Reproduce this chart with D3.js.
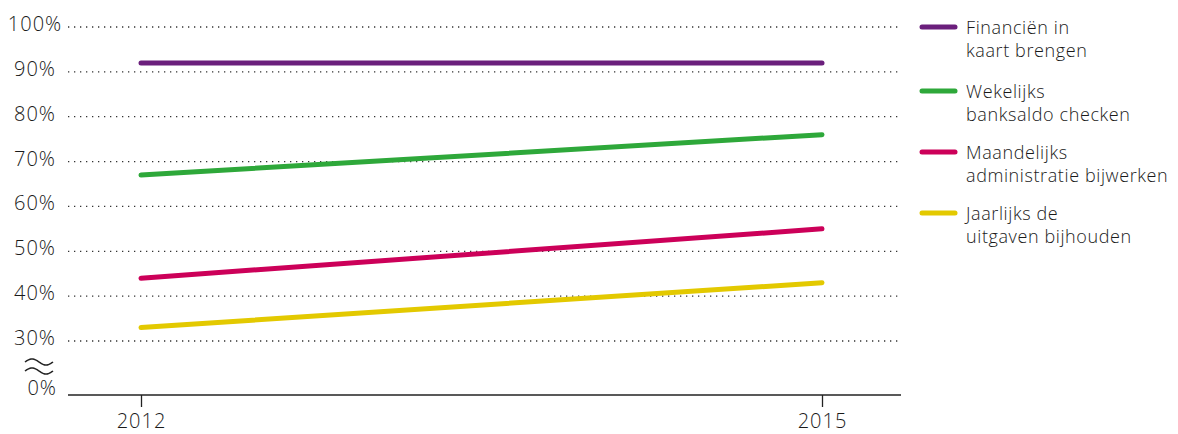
<!DOCTYPE html>
<html>
<head>
<meta charset="utf-8">
<script src="https://cdn.jsdelivr.net/npm/d3@7"></script>
<style>
  html, body { margin: 0; padding: 0; background: #fff; }
  svg { display: block; font-family: "Open Sans", "Noto Sans", sans-serif; }
</style>
</head>
<body>
<svg id="chart" width="1178" height="434"></svg>
<script>
// Years on the x axis
const years = [2012, 2015];
// Share of respondents per habit (%)
const seriesNames = [
  ["Financiën in", "kaart brengen"],
  ["Wekelijks", "banksaldo checken"],
  ["Maandelijks", "administratie bijwerken"],
  ["Jaarlijks de", "uitgaven bijhouden"]
];
const financien = [92, 92];
const wekelijks = [67, 76];
const maandelijks = [44, 55];
const jaarlijks = [33, 43];
const seriesColors = ["#6b1f7c", "#2ea83a", "#cc0059", "#e3c900"];
// Gridline ticks above the axis break
const yTicks = [30, 40, 50, 60, 70, 80, 90, 100];
const tickLabel = d => d + "%";

const series = [financien, wekelijks, maandelijks, jaarlijks];

const svg = d3.select("#chart");

const x = d3.scaleLinear().domain([2012, 2015]).range([141, 822]);
const y = d3.scaleLinear().domain([30, 100]).range([341, 27]);
const axisY = 395;       // baseline, stands for 0%
const gridLeft = 68, gridRight = 901;
const textColor = "#1a1a1a";

// dotted gridlines
svg.append("g")
  .selectAll("line")
  .data(yTicks)
  .join("line")
  .attr("x1", gridLeft)
  .attr("x2", gridRight)
  .attr("y1", d => y(d))
  .attr("y2", d => y(d))
  .attr("stroke", "#333")
  .attr("stroke-width", 1.3)
  .attr("stroke-dasharray", "1.3,4.7");

// y labels
svg.append("g")
  .selectAll("text")
  .data(yTicks)
  .join("text")
  .attr("x", 35)
  .attr("y", d => y(d) + 4)
  .attr("text-anchor", "middle")
  .attr("font-size", 20)
  .attr("font-weight", 300)
  .attr("letter-spacing", 1)
  .attr("fill", textColor)
  .text(tickLabel);

svg.append("text")
  .attr("x", 57)
  .attr("y", axisY - 0.5)
  .attr("text-anchor", "end")
  .attr("font-size", 20)
  .attr("font-weight", 300)
  .attr("letter-spacing", 1)
  .attr("fill", textColor)
  .text(tickLabel(0));

// axis-break symbol: two stacked tildes
const wave = d3.line().curve(d3.curveBasis);
[0, 9].forEach(off => {
  const w = d3.range(0, 29).map(i => [25 + i, 362 + off - 3 * Math.sin((i / 28) * 2 * Math.PI)]);
  svg.append("path")
    .attr("d", wave(w))
    .attr("fill", "none")
    .attr("stroke", "#222")
    .attr("stroke-width", 1.5);
});

// x axis
const xAxis = d3.axisBottom(x)
  .tickValues(years)
  .tickFormat(d3.format("d"))
  .tickSizeInner(12)
  .tickSizeOuter(0)
  .tickPadding(7);

const gx = svg.append("g")
  .attr("transform", `translate(0,${axisY})`)
  .call(xAxis);
gx.select(".domain").remove();
gx.append("line")
  .attr("x1", gridLeft).attr("x2", gridRight)
  .attr("y1", 0).attr("y2", 0)
  .attr("stroke", "#222").attr("stroke-width", 1.3);
gx.selectAll(".tick line").attr("stroke", "#222").attr("stroke-width", 1.3);
gx.selectAll(".tick text")
  .attr("font-size", 20)
  .attr("font-weight", 300)
  .attr("letter-spacing", 1)
  .attr("font-family", "'Open Sans', 'Noto Sans', sans-serif")
  .attr("fill", textColor);

// series lines
const line = d3.line()
  .x((d, i) => x(years[i]))
  .y(d => y(d));

svg.append("g")
  .selectAll("path")
  .data(series)
  .join("path")
  .attr("d", line)
  .attr("fill", "none")
  .attr("stroke", (d, i) => seriesColors[i])
  .attr("stroke-width", 5)
  .attr("stroke-linecap", "round");

// legend
const legendTop = [27, 91, 152, 213];
const lg = svg.append("g")
  .selectAll("g")
  .data(seriesNames)
  .join("g")
  .attr("transform", (d, i) => `translate(922,${legendTop[i]})`);

lg.append("line")
  .attr("x1", 0).attr("x2", 33)
  .attr("y1", 0).attr("y2", 0)
  .attr("stroke", (d, i) => seriesColors[i])
  .attr("stroke-width", 5)
  .attr("stroke-linecap", "round");

lg.append("text")
  .attr("x", 44)
  .attr("y", 0)
  .attr("font-size", 18)
  .attr("font-weight", 300)
  .attr("letter-spacing", 0.6)
  .attr("fill", textColor)
  .selectAll("tspan")
  .data(d => d)
  .join("tspan")
  .attr("x", 44)
  .attr("dy", (d, i) => i === 0 ? 7 : 23)
  .text(d => d);
</script>
</body>
</html>
